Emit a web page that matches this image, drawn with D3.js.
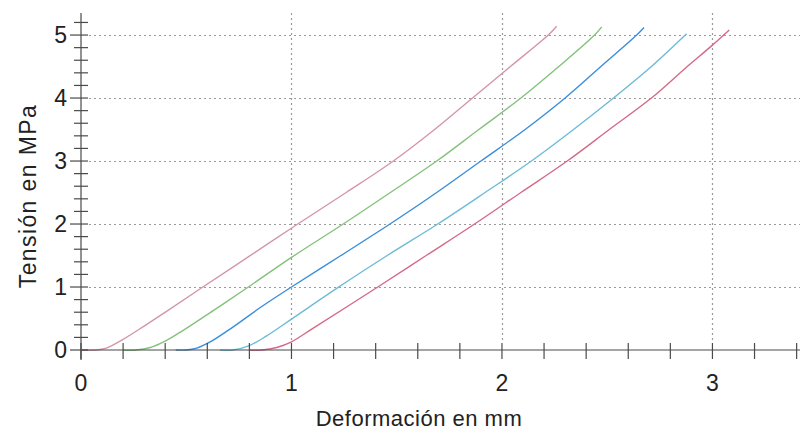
<!DOCTYPE html>
<html>
<head>
<meta charset="utf-8">
<script src="https://cdn.jsdelivr.net/npm/d3@7"></script>
<style>
  html, body { margin: 0; padding: 0; background: #ffffff; }
  svg { display: block; }
  text { font-family: "Liberation Sans", Arial, sans-serif; fill: #222; }
</style>
</head>
<body>
<svg id="chart" width="800" height="433"></svg>
<script>
// Deformation (mm) / stress (MPa) samples for the five test curves
const curveNames = ["Ensayo 1", "Ensayo 2", "Ensayo 3", "Ensayo 4", "Ensayo 5"];
const curveColors = ["#d496a8", "#84c27c", "#3a8edc", "#6cbcd6", "#d46a88"];

const strain1 = [0.00, 0.07, 0.12, 0.20, 0.30, 0.41, 0.57, 0.80, 1.03, 1.26, 1.484, 1.68, 1.86, 2.04, 2.22, 2.26];
const stress1 = [0.00, 0.00, 0.03, 0.17, 0.38, 0.62, 0.98, 1.49, 2.00, 2.50, 3.00, 3.50, 4.00, 4.50, 5.00, 5.14];

const strain2 = [0.20, 0.26, 0.33, 0.40, 0.47, 0.63, 0.795, 1.00, 1.246, 1.47, 1.69, 1.89, 2.09, 2.27, 2.44, 2.474];
const stress2 = [0.00, 0.00, 0.04, 0.14, 0.28, 0.63, 1.00, 1.47, 2.00, 2.50, 3.00, 3.50, 4.00, 4.50, 5.00, 5.13];

const strain3 = [0.45, 0.50, 0.55, 0.62, 0.72, 0.85, 1.00, 1.235, 1.468, 1.69, 1.90, 2.11, 2.30, 2.47, 2.64, 2.675];
const stress3 = [0.00, 0.00, 0.03, 0.14, 0.36, 0.67, 1.00, 1.50, 2.00, 2.50, 3.00, 3.50, 4.00, 4.50, 5.00, 5.12];

const strain4 = [0.66, 0.72, 0.80, 0.88, 1.00, 1.22, 1.455, 1.695, 1.92, 2.14, 2.34, 2.53, 2.71, 2.877];
const stress4 = [0.00, 0.00, 0.07, 0.22, 0.49, 0.99, 1.50, 2.00, 2.50, 3.00, 3.50, 4.00, 4.50, 5.02];

const strain5 = [0.80, 0.86, 0.93, 1.00, 1.10, 1.41, 1.64, 1.87, 2.09, 2.31, 2.51, 2.71, 2.87, 3.00, 3.08];
const stress5 = [0.00, 0.00, 0.04, 0.13, 0.34, 1.00, 1.50, 2.00, 2.50, 3.00, 3.50, 4.00, 4.47, 4.84, 5.08];

const xMajorTicks = [0, 1, 2, 3];
const yMajorTicks = [0, 1, 2, 3, 4, 5];
const xTitle = "Deformación en mm";
const yTitle = "Tensión en MPa";

const strains = [strain1, strain2, strain3, strain4, strain5];
const stresses = [stress1, stress2, stress3, stress4, stress5];
const series = curveNames.map((name, i) => ({
  name,
  color: curveColors[i],
  points: strains[i].map((x, j) => ({ x, y: stresses[i][j] }))
}));

const svg = d3.select("#chart");
const x0 = 81, y0 = 350;
const x = d3.scaleLinear().domain([0, 3.416]).range([x0, 800]);
const y = d3.scaleLinear().domain([0, 5.35]).range([y0, 13]);

const xMinor = d3.range(0, 3.41, 0.2);
const yMinor = d3.range(0, 5.21, 0.2);

// dotted grid
const grid = svg.append("g").attr("stroke", "#9a9a9a").attr("stroke-width", 1.2)
  .attr("stroke-dasharray", "2,3");
grid.selectAll("line.h").data(yMajorTicks.filter(d => d > 0)).join("line")
  .attr("x1", x0 + 8).attr("x2", 800)
  .attr("y1", d => Math.round(y(d)) + 0.5).attr("y2", d => Math.round(y(d)) + 0.5);
grid.selectAll("line.v").data(xMajorTicks.filter(d => d > 0)).join("line")
  .attr("x1", d => Math.round(x(d)) + 0.5).attr("x2", d => Math.round(x(d)) + 0.5)
  .attr("y1", y.range()[1]).attr("y2", y0 - 8);

// curves
const line = d3.line().x(d => x(d.x)).y(d => y(d.y)).curve(d3.curveCatmullRom.alpha(0.5));
svg.append("g").selectAll("path").data(series).join("path")
  .attr("fill", "none")
  .attr("stroke", d => d.color)
  .attr("stroke-width", 1.4)
  .attr("d", d => line(d.points));

// axes
const axisColor = "#4a4a4a";
const ax = svg.append("g").attr("stroke", axisColor).attr("stroke-width", 1.2);
ax.append("line").attr("x1", x0).attr("x2", 800).attr("y1", y0).attr("y2", y0);
ax.append("line").attr("x1", x0).attr("x2", x0).attr("y1", y0 + 10).attr("y2", y.range()[1]);

ax.selectAll("line.xt").data(xMinor).join("line")
  .attr("x1", d => x(d)).attr("x2", d => x(d))
  .attr("y1", y0 - 7).attr("y2", y0 + 9);
ax.selectAll("line.yt").data(yMinor).join("line")
  .attr("x1", d => yMajorTicks.includes(Math.round(d * 10) / 10) ? x0 - 11 : x0 - 7)
  .attr("x2", x0 + 7)
  .attr("y1", d => y(d)).attr("y2", d => y(d));

// tick labels
svg.append("g").selectAll("text").data(xMajorTicks).join("text")
  .attr("x", d => x(d)).attr("y", 391)
  .attr("text-anchor", "middle").attr("font-size", 23)
  .text(d => d);
svg.append("g").selectAll("text").data(yMajorTicks).join("text")
  .attr("x", 67).attr("y", d => y(d) + 8)
  .attr("text-anchor", "end").attr("font-size", 23)
  .text(d => d);

// axis titles
svg.append("text").attr("x", 419).attr("y", 426)
  .attr("text-anchor", "middle").attr("font-size", 22)
  .attr("letter-spacing", 0.5).text(xTitle);
svg.append("text").attr("transform", "translate(36,196) rotate(-90)")
  .attr("text-anchor", "middle").attr("font-size", 23)
  .attr("letter-spacing", 1.4).text(yTitle);
</script>
</body>
</html>
